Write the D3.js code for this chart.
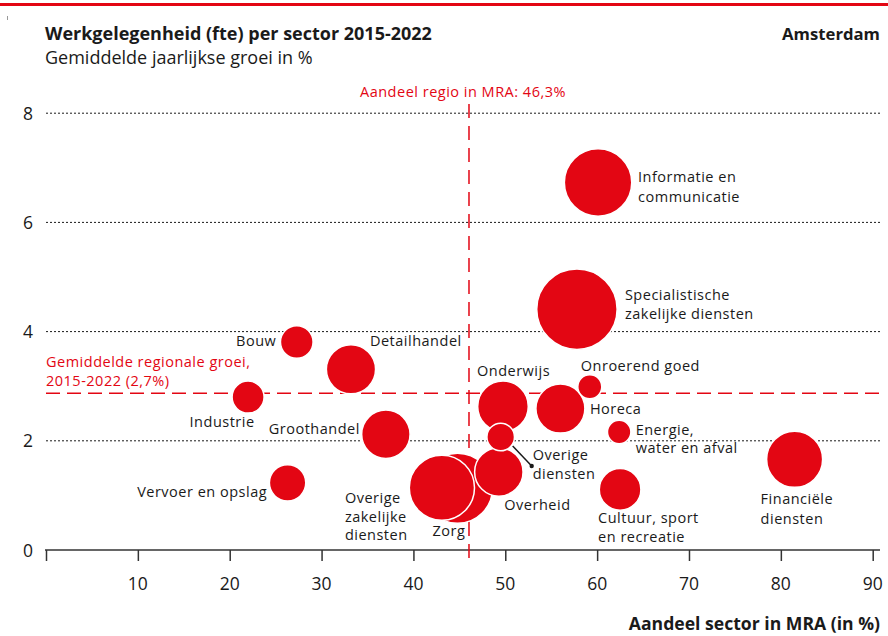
<!DOCTYPE html>
<html><head><meta charset="utf-8">
<script src="https://cdn.jsdelivr.net/npm/d3@7"></script>
<style>
body{margin:0;background:#fff;}
svg{display:block;font-family:"Open Sans",Lato,sans-serif;}
</style></head>
<body><svg id="c" width="888" height="636"></svg>
<script>
// ---- data ----
const sectors = ["Specialistische zakelijke diensten","Zorg","Informatie en communicatie","Overige zakelijke diensten","Financiële diensten","Onderwijs","Detailhandel","Overheid","Groothandel","Horeca","Cultuur, sport en recreatie","Vervoer en opslag","Bouw","Industrie","Overige diensten","Onroerend goed","Energie, water en afval"];
const shareMRA = [57.8, 44.8, 60.1, 43.1, 81.5, 49.75, 33.2, 49.3, 37.0, 56.0, 62.5, 26.3, 27.3, 22.0, 49.5, 59.2, 62.4];
const growth   = [4.41, 1.13, 6.73, 1.14, 1.66, 2.63, 3.31, 1.43, 2.12, 2.59, 1.11, 1.23, 3.81, 2.80, 2.07, 2.99, 2.16];
const fteSize  = [1616, 1225, 1136, 1063, 784, 640, 605, 586, 586, 600, 433, 331, 266, 256, 190, 144, 137];
const labelLines = [["Specialistische","zakelijke diensten"],["Zorg"],["Informatie en","communicatie"],["Overige","zakelijke","diensten"],["Financiële","diensten"],["Onderwijs"],["Detailhandel"],["Overheid"],["Groothandel"],["Horeca"],["Cultuur, sport","en recreatie"],["Vervoer en opslag"],["Bouw"],["Industrie"],["Overige","diensten"],["Onroerend goed"],["Energie,","water en afval"]];
const xTicks = [10,20,30,40,50,60,70,80,90];
const yTicks = [0,2,4,6,8];
const gridTicks = [2,4,6,8];
const regionShare = 46.05;      // drawn position of "Aandeel regio in MRA: 46,3%"
const regionShareLabel = "Aandeel regio in MRA: 46,3%";
const avgGrowth = 2.87;         // drawn position of regional average line
const avgGrowthLabel = ["Gemiddelde regionale groei,","2015-2022 (2,7%)"];

// ---- layout (label offsets relative to bubble centre) ----
const labelLayout = {
 "Specialistische zakelijke diensten":{dx:48,dy:-14,lh:18.5,a:"start"},
 "Zorg":{dx:-25,dy:43,lh:18,a:"start"},
 "Informatie en communicatie":{dx:40,dy:-6,lh:20,a:"start"},
 "Overige zakelijke diensten":{dx:-97,dy:10,lh:18.8,a:"start"},
 "Financiële diensten":{dx:-34,dy:39.5,lh:20,a:"start"},
 "Onderwijs":{dx:-26,dy:-35,lh:18,a:"start"},
 "Detailhandel":{dx:19,dy:-28,lh:18,a:"start"},
 "Overheid":{dx:5.5,dy:33,lh:18,a:"start"},
 "Groothandel":{dx:-26,dy:-5,lh:18,a:"end"},
 "Horeca":{dx:29.5,dy:0,lh:18,a:"start"},
 "Cultuur, sport en recreatie":{dx:-22,dy:28.9,lh:18.5,a:"start"},
 "Vervoer en opslag":{dx:-20.5,dy:9,lh:18,a:"end"},
 "Bouw":{dx:-20.5,dy:-1,lh:18,a:"end"},
 "Industrie":{dx:6.5,dy:24.5,lh:18,a:"end"},
 "Overige diensten":{dx:32,dy:18.3,lh:18.5,a:"start",leader:[12,9,31,29]},
 "Onroerend goed":{dx:-9,dy:-21,lh:18,a:"start"},
 "Energie, water en afval":{dx:16.5,dy:-2.5,lh:18.5,a:"start"}
};

const RED = "#e30613", INK = "#1a1a1a";
const svg = d3.select("#c");
const x = d3.scaleLinear().domain([0,90]).range([46,872.7]);
const y = d3.scaleLinear().domain([0,8]).range([550,113.2]);
const r = d3.scaleSqrt().domain([0,d3.max(fteSize)]).range([0,40.2]);
const xEnd = 880;
const LABEL_FS = 14.5, LABEL_LS = 0.5;

// top rule
svg.append("rect").attr("x",0).attr("y",3).attr("width",888).attr("height",3).attr("fill",RED);
svg.append("line").attr("x1",7.5).attr("x2",7.5).attr("y1",16).attr("y2",20).attr("stroke","#999").attr("stroke-width",1);

// titles
svg.append("text").attr("x",45).attr("y",40).attr("font-size",18).attr("font-weight",700).attr("fill",INK).text("Werkgelegenheid (fte) per sector 2015-2022");
svg.append("text").attr("x",xEnd).attr("y",40).attr("text-anchor","end").attr("font-size",16.7).attr("font-weight",700).attr("fill",INK).text("Amsterdam");
svg.append("text").attr("x",45).attr("y",64).attr("font-size",18).attr("fill",INK).text("Gemiddelde jaarlijkse groei in %");

// grid
svg.append("g").selectAll("line").data(gridTicks).join("line")
  .attr("x1",46).attr("x2",xEnd).attr("y1",d=>y(d)).attr("y2",d=>y(d))
  .attr("stroke",INK).attr("stroke-width",1).attr("stroke-dasharray","2,2");

// y labels
svg.append("g").selectAll("text").data(yTicks).join("text")
  .attr("x",33).attr("y",d=>y(d)+6.5).attr("text-anchor","end").attr("font-size",17.5).attr("fill",INK).text(d=>d);

// x axis
const xAxis = d3.axisBottom(x).tickValues([0,...xTicks]).tickSize(11).tickFormat("");
const gx = svg.append("g").attr("transform",`translate(0,${y(0)})`).call(xAxis);
gx.select(".domain").remove();
gx.selectAll(".tick line").attr("stroke","#333").attr("stroke-width",1.5);
svg.append("line").attr("x1",45).attr("x2",xEnd).attr("y1",y(0)).attr("y2",y(0)).attr("stroke","#333").attr("stroke-width",1.5);
svg.append("g").selectAll("text").data(xTicks).join("text")
  .attr("x",d=>x(d)).attr("y",589.5).attr("text-anchor","middle").attr("font-size",17.5).attr("fill",INK).text(d=>d);
svg.append("text").attr("x",xEnd).attr("y",629.5).attr("text-anchor","end").attr("font-size",17.6).attr("font-weight",700).attr("fill",INK).text("Aandeel sector in MRA (in %)");

// reference lines
svg.append("line").attr("x1",46).attr("x2",xEnd).attr("y1",y(avgGrowth)).attr("y2",y(avgGrowth))
  .attr("stroke",RED).attr("stroke-width",1.5).attr("stroke-dasharray","14,7");
svg.append("text").attr("font-size",LABEL_FS).attr("letter-spacing",LABEL_LS).attr("fill",RED).selectAll("tspan").data(avgGrowthLabel).join("tspan")
  .attr("x",46).attr("y",(d,i)=>y(avgGrowth)-26+i*19).text(d=>d);
svg.append("line").attr("x1",x(regionShare)).attr("x2",x(regionShare)).attr("y1",104).attr("y2",566)
  .attr("stroke",RED).attr("stroke-width",1.5).attr("stroke-dasharray","14,8");
svg.append("text").attr("x",x(regionShare)-6).attr("y",97).attr("text-anchor","middle").attr("font-size",LABEL_FS).attr("letter-spacing",LABEL_LS).attr("fill",RED).text(regionShareLabel);

// bubbles
const data = sectors.map((s,i)=>({s,x:shareMRA[i],y:growth[i],v:fteSize[i],lines:labelLines[i]}));
data.sort((a,b)=>b.v-a.v);
svg.append("g").selectAll("circle").data(data).join("circle")
  .attr("cx",d=>x(d.x)).attr("cy",d=>y(d.y)).attr("r",d=>r(d.v))
  .attr("fill",RED).attr("stroke","#fff").attr("stroke-width",1.5);

// labels
const lg = svg.append("g");
data.forEach(d=>{
  const L = labelLayout[d.s]; const cx=x(d.x), cy=y(d.y);
  if(L.leader){
    lg.append("line").attr("x1",cx+L.leader[0]).attr("y1",cy+L.leader[1]).attr("x2",cx+L.leader[2]).attr("y2",cy+L.leader[3]).attr("stroke",INK).attr("stroke-width",1.5);
    lg.append("circle").attr("cx",cx+L.leader[2]).attr("cy",cy+L.leader[3]).attr("r",2.2).attr("fill",INK);
  }
  lg.append("text").attr("font-size",LABEL_FS).attr("letter-spacing",LABEL_LS).attr("fill",INK).attr("text-anchor",L.a)
    .selectAll("tspan").data(d.lines).join("tspan")
    .attr("x",cx+L.dx).attr("y",(t,i)=>cy+L.dy+5+i*L.lh).text(t=>t);
});
</script></body></html>
